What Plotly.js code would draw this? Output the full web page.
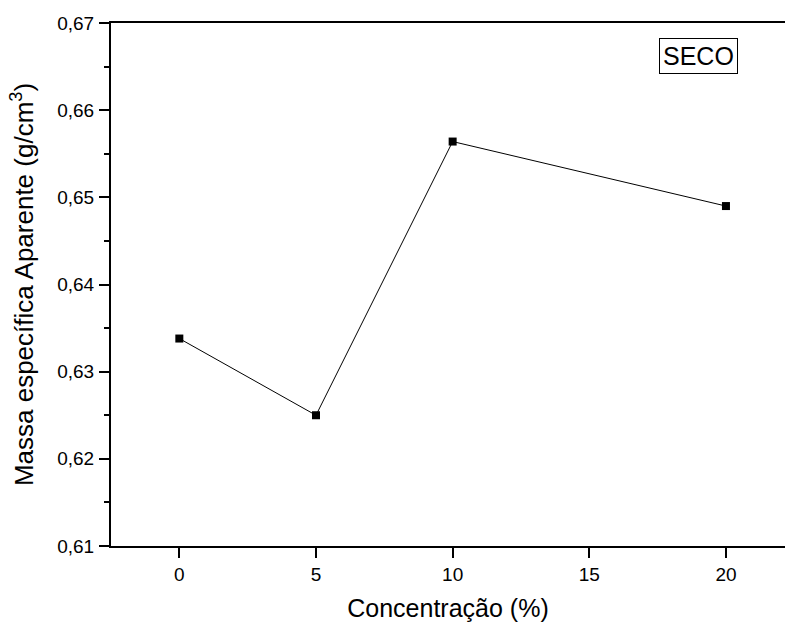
<!DOCTYPE html>
<html>
<head>
<meta charset="utf-8">
<script src="https://cdn.plot.ly/plotly-3.0.1.min.js"></script>
<style>
  html, body { margin: 0; padding: 0; background: #fff; overflow: hidden; }
  #chart { width: 785px; height: 626px; }
</style>
</head>
<body>
<div id="chart"></div>
<script>
const concentracao = [0, 5, 10, 20];
const massaEspecifica = [0.6338, 0.6250, 0.6564, 0.6490];
const xTickVals = [0, 5, 10, 15, 20];
const xTickText = ['0', '5', '10', '15', '20'];
const yTickVals = [0.61, 0.62, 0.63, 0.64, 0.65, 0.66, 0.67];
const yTickText = ['0,61', '0,62', '0,63', '0,64', '0,65', '0,66', '0,67'];
const labelText = 'SECO';

const FONT = '"Liberation Sans", Arial, Helvetica, sans-serif';

const trace = {
  x: concentracao,
  y: massaEspecifica,
  type: 'scatter',
  mode: 'lines+markers',
  line: { color: '#000', width: 1 },
  marker: { symbol: 'square', size: 8, color: '#000' },
  showlegend: false,
  hoverinfo: 'x+y'
};

const layout = {
  width: 785,
  height: 626,
  margin: { l: 111, r: 0, t: 23, b: 80 },
  paper_bgcolor: '#fff',
  plot_bgcolor: '#fff',
  font: { family: FONT, color: '#000', size: 19 },
  showlegend: false,
  xaxis: {
    range: [-2.5, 22.16],
    tickvals: xTickVals,
    ticktext: xTickText,
    ticks: 'outside',
    ticklen: 10,
    tickwidth: 2,
    tickcolor: '#000',
    showline: true,
    linewidth: 2,
    linecolor: '#000',
    mirror: true,
    showgrid: false,
    zeroline: false,
    ticklabelstandoff: 0,
    tickfont: { family: FONT, size: 19, color: '#000' },
    title: { text: 'Concentração (%)', font: { family: FONT, size: 25, color: '#000' }, standoff: 16 }
  },
  yaxis: {
    range: [0.61, 0.67],
    tickvals: yTickVals,
    ticktext: yTickText,
    ticks: 'outside',
    ticklen: 10,
    tickwidth: 2,
    tickcolor: '#000',
    minor: { dtick: 0.005, ticks: 'outside', ticklen: 5, tickwidth: 2, tickcolor: '#000', showgrid: false },
    showline: true,
    linewidth: 2,
    linecolor: '#000',
    mirror: false,
    showgrid: false,
    zeroline: false,
    ticklabelstandoff: 1,
    tickfont: { family: FONT, size: 19, color: '#000' },
    title: { text: 'Massa específica Aparente (g/cm<sup>3</sup>)', font: { family: FONT, size: 26, color: '#000' }, standoff: 16 }
  },
  annotations: [{
    text: labelText,
    xref: 'x', yref: 'y',
    x: 18.98, y: 0.66627,
    xanchor: 'center', yanchor: 'middle',
    showarrow: false,
    font: { family: FONT, size: 25, color: '#000' },
    bordercolor: '#000',
    borderwidth: 1,
    borderpad: 3,
    bgcolor: '#fff'
  }]
};

Plotly.newPlot('chart', [trace], layout, { displayModeBar: false, staticPlot: true });
</script>
</body>
</html>
